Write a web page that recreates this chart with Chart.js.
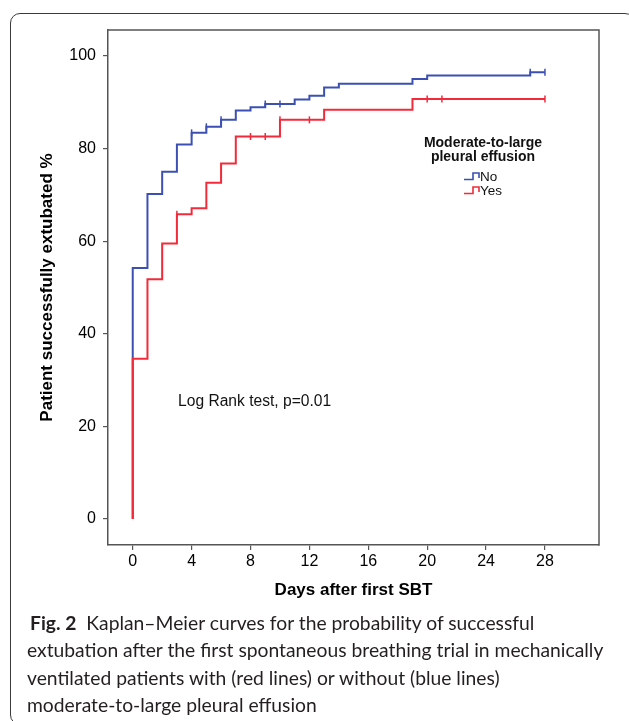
<!DOCTYPE html>
<html><head><meta charset="utf-8">
<script src="https://cdn.jsdelivr.net/npm/chart.js@4.4.1/dist/chart.umd.min.js"></script>
<style>
html,body{margin:0;padding:0;background:#fff;width:629px;height:721px;overflow:hidden;}
#frame{position:absolute;left:10px;top:13px;width:625px;height:712px;border:1.3px solid #3a3a3a;border-radius:10px;box-sizing:border-box;}
#wrap{position:absolute;left:0;top:0;width:629px;height:610px;}
#caption{position:absolute;left:27px;top:609px;font-family:Lato,sans-serif;font-size:19.3px;line-height:27.3px;color:#231f20;white-space:nowrap;}
#caption b{font-weight:700;margin-left:3px;margin-right:5px;}
</style></head><body>
<div id="frame"></div>
<div id="wrap"><canvas id="c" width="629" height="610"></canvas></div>
<div id="caption">
<div><b>Fig. 2</b> Kaplan–Meier curves for the probability of successful</div>
<div>extubation after the first spontaneous breathing trial in mechanically</div>
<div>ventilated patients with (red lines) or without (blue lines)</div>
<div>moderate-to-large pleural effusion</div>
</div>
<script>
// ---- data ----
const xTicks = [0, 4, 8, 12, 16, 20, 24, 28];
const yTicks = [0, 20, 40, 60, 80, 100];
const seriesNames = ['No', 'Yes'];
// "No" group (blue)
const noTimes  = [0, 0, 1, 2, 3, 4, 5, 6, 7, 8, 9, 11, 12, 13, 14, 19, 20, 27, 28];
const noValues = [0, 54.2, 70.2, 75.0, 80.9, 83.4, 84.7, 86.2, 88.2, 88.9, 89.6, 90.6, 91.4, 93.2, 94.0, 95.0, 95.8, 96.5, 96.5];
const noCensorTimes  = [4, 5, 6, 9, 10, 27, 28];
const noCensorValues = [83.4, 84.7, 86.2, 89.6, 89.6, 96.5, 96.5];
// "Yes" group (red)
const yesTimes  = [0, 0, 1, 2, 3, 4, 5, 6, 7, 10, 13, 19, 28];
const yesValues = [0, 34.6, 51.8, 59.5, 65.8, 67.1, 72.6, 76.8, 82.6, 86.2, 88.4, 90.7, 90.7];
const yesCensorTimes  = [3, 8, 9, 10, 12, 20, 21, 28];
const yesCensorValues = [65.8, 82.6, 82.6, 86.2, 86.2, 90.7, 90.7, 90.7];
const legendTitle = ['Moderate-to-large', 'pleural effusion'];
const annotationText = 'Log Rank test, p=0.01';
const xTitle = 'Days after first SBT';
const yTitle = 'Patient successfully extubated %';

const BLUE = '#3c50b4';
const RED = '#f22a3a';
const AXIS = '#555555';
const FONT = 'Liberation Sans, Arial, sans-serif';

const pts = (t, v) => t.map((x, i) => ({x: x, y: v[i]}));

const stepDs = (label, t, v, color) => ({
  label: label, data: pts(t, v), borderColor: color, backgroundColor: color,
  borderWidth: 2, pointRadius: 0, pointHoverRadius: 0, stepped: true, fill: false, tension: 0
});
const censorDs = (label, t, v, color) => ({
  label: label, data: pts(t, v), showLine: false, borderColor: color, backgroundColor: color,
  pointStyle: 'line', rotation: 90, pointRadius: 3.5, pointBorderWidth: 1.5, pointBorderColor: color
});

const colors = {No: BLUE, Yes: RED};

const decor = {
  id: 'decor',
  afterDraw(chart) {
    const {ctx, chartArea: a, scales} = chart;
    ctx.save();
    // top and right frame
    ctx.strokeStyle = AXIS; ctx.lineWidth = 1.5;
    ctx.beginPath();
    ctx.moveTo(a.left - 0.75, a.top);
    ctx.lineTo(a.right, a.top);
    ctx.lineTo(a.right, a.bottom + 0.75);
    ctx.stroke();
    // annotation
    ctx.fillStyle = '#111';
    ctx.font = '15.6px ' + FONT;
    ctx.textAlign = 'left'; ctx.textBaseline = 'middle';
    ctx.fillText(annotationText, scales.x.getPixelForValue(3.08), scales.y.getPixelForValue(25.3));
    // legend
    const lx = a.right - 116, ly = a.top + 113;
    ctx.font = 'bold 14px ' + FONT;
    ctx.textAlign = 'center';
    legendTitle.forEach((s, i) => ctx.fillText(s, lx, ly + i * 14));
    ctx.font = '13.5px ' + FONT;
    ctx.textAlign = 'left';
    seriesNames.forEach((name, i) => {
      const y = ly + 34 + i * 14;
      const sx = lx - 19;
      ctx.strokeStyle = colors[name]; ctx.lineWidth = 1.6;
      ctx.beginPath();
      ctx.moveTo(sx, y + 2.5);
      ctx.lineTo(sx + 9, y + 2.5);
      ctx.lineTo(sx + 9, y - 4);
      ctx.lineTo(sx + 15, y - 4);
      ctx.lineTo(sx + 15, y + 1);
      ctx.stroke();
      ctx.fillStyle = '#111';
      ctx.fillText(name, sx + 16, y);
    });
    ctx.restore();
  }
};

new Chart(document.getElementById('c'), {
  type: 'line',
  data: {
    datasets: [
      stepDs('Yes', yesTimes, yesValues, RED),
      censorDs('Yes censored', yesCensorTimes, yesCensorValues, RED),
      stepDs('No', noTimes, noValues, BLUE),
      censorDs('No censored', noCensorTimes, noCensorValues, BLUE)
    ]
  },
  options: {
    responsive: false, animation: false, devicePixelRatio: 1,
    layout: {padding: {left: 0, top: 30, right: 30, bottom: 0}},
    plugins: {legend: {display: false}, tooltip: {enabled: false}},
    scales: {
      x: {
        type: 'linear', min: -1.68, max: 31.67,
        afterBuildTicks: s => { s.ticks = xTicks.map(v => ({value: v})); },
        afterFit: s => { s.height = 65; },
        ticks: {font: {family: FONT, size: 16}, color: '#000', padding: 2, maxRotation: 0, autoSkip: false},
        grid: {drawOnChartArea: false, drawTicks: true, tickLength: 5, color: AXIS, lineWidth: 1.2},
        border: {display: true, color: AXIS, width: 1.5},
        title: {display: true, text: xTitle, color: '#000', font: {family: FONT, size: 17, weight: 'bold'}, padding: {top: 0, bottom: 9}}
      },
      y: {
        type: 'linear', min: -5.6, max: 105.6,
        afterBuildTicks: s => { s.ticks = yTicks.map(v => ({value: v})); },
        afterFit: s => { s.width = 108; },
        ticks: {font: {family: FONT, size: 16}, color: '#000', padding: 7, autoSkip: false},
        grid: {drawOnChartArea: false, drawTicks: true, tickLength: 5, color: AXIS, lineWidth: 1.2},
        border: {display: true, color: AXIS, width: 1.5},
        title: {display: true, text: yTitle, color: '#000', font: {family: FONT, size: 17, weight: 'bold'}, padding: {top: 37, bottom: 0}}
      }
    }
  },
  plugins: [decor]
});
</script>
</body></html>
